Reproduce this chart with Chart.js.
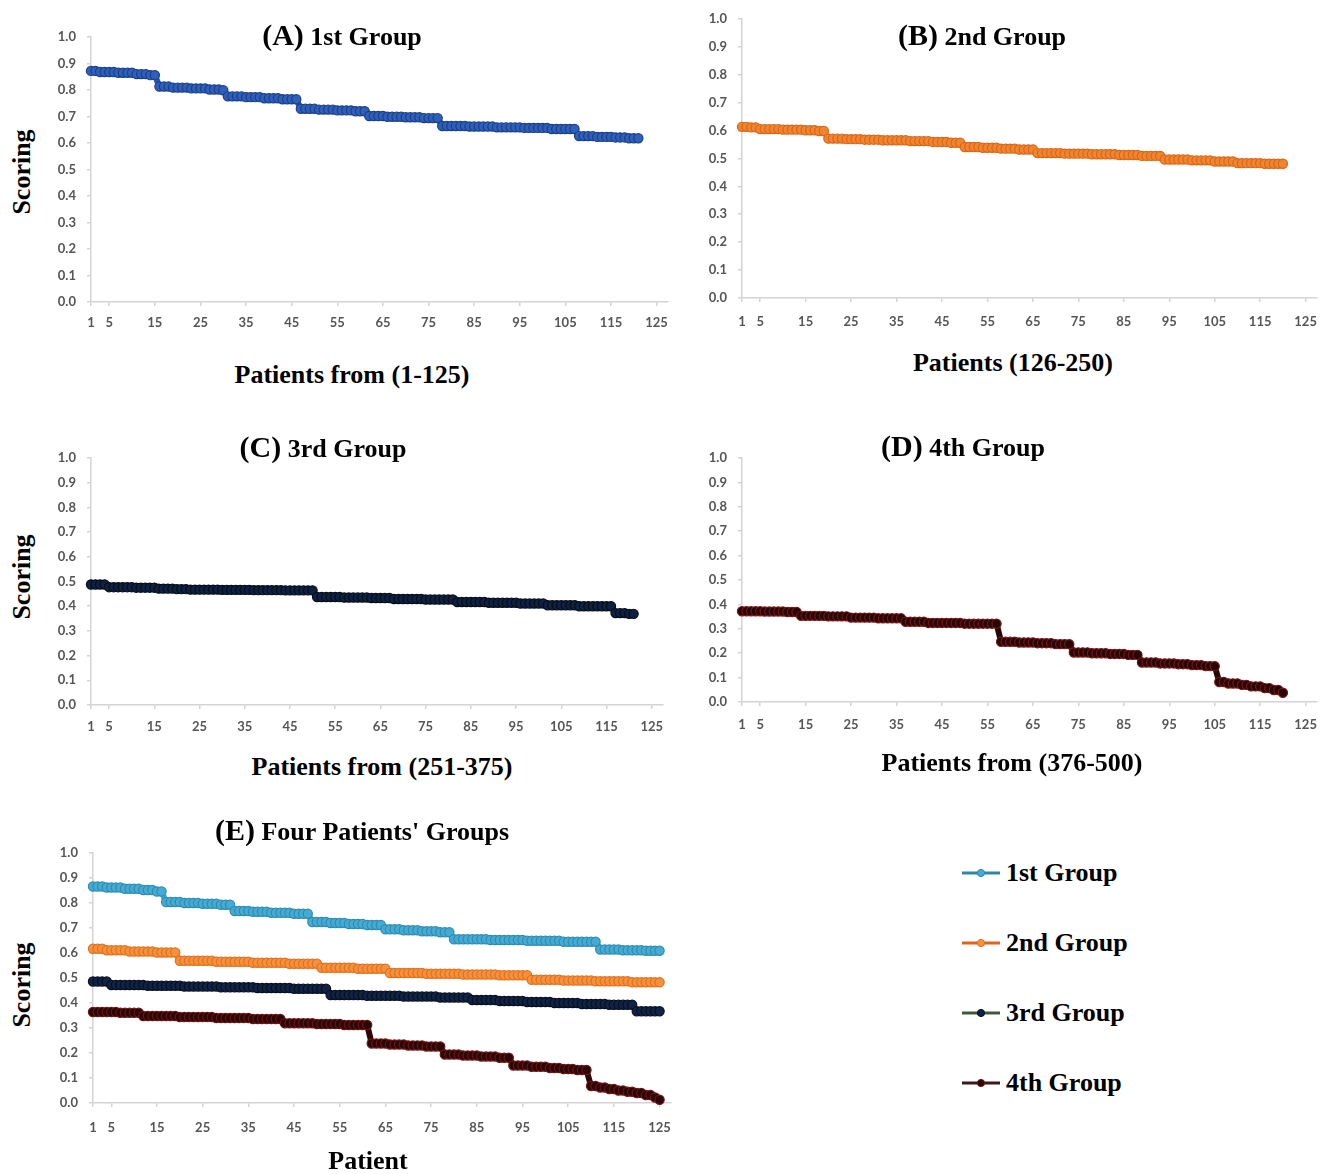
<!DOCTYPE html>
<html>
<head>
<meta charset="utf-8">
<script src="https://cdn.jsdelivr.net/npm/chart.js@4.4.0/dist/chart.umd.min.js"></script>
<style>
  html, body { margin: 0; padding: 0; background: #fff; }
  body { width: 1333px; height: 1174px; position: relative; overflow: hidden; }
  canvas { position: absolute; }
  .t {
    position: absolute; white-space: nowrap; color: #000; line-height: 1;
    font-family: "Liberation Serif", "Times New Roman", serif; font-weight: bold; font-size: 26px;
    transform: translate(-50%, -50%);
  }
  .t .p { font-size: 30px; }
  .v { transform: translate(-50%, -50%) rotate(-90deg); }
  .leg { position: absolute; display: flex; align-items: center; transform: translateY(-50%); }
  .leg svg { margin-right: 4px; }
</style>
</head>
<body>
<canvas id="chartA"></canvas>
<canvas id="chartB"></canvas>
<canvas id="chartC"></canvas>
<canvas id="chartD"></canvas>
<canvas id="chartE"></canvas>

<div class="t" style="left:342px;top:35px"><span class="p">(A)</span> 1st Group</div>
<div class="t" style="left:982px;top:35px"><span class="p">(B)</span> 2nd Group</div>
<div class="t" style="left:323px;top:447px"><span class="p">(C)</span> 3rd Group</div>
<div class="t" style="left:963px;top:446px"><span class="p">(D)</span> 4th Group</div>
<div class="t" style="left:362px;top:830px"><span class="p">(E)</span> Four Patients' Groups</div>

<div class="t" style="left:352px;top:375px">Patients from (1-125)</div>
<div class="t" style="left:1013px;top:363px">Patients (126-250)</div>
<div class="t" style="left:382px;top:767px">Patients from (251-375)</div>
<div class="t" style="left:1012px;top:763px">Patients from (376-500)</div>
<div class="t" style="left:368px;top:1161px">Patient</div>

<div class="t v" style="left:22px;top:172px">Scoring</div>
<div class="t v" style="left:22px;top:577px">Scoring</div>
<div class="t v" style="left:22px;top:985px">Scoring</div>

<div id="legend"></div>

<script>
// Ranked patient scores, stored as [score, number of patients with that score], in rank order.
const group1Runs = [
  [0.872,2],[0.868,4],[0.865,4],[0.860,3],[0.856,2],
  [0.813,3],[0.809,4],[0.806,4],[0.802,3],[0.799,1],
  [0.776,4],[0.773,4],[0.769,4],[0.765,4],
  [0.729,4],[0.726,4],[0.723,4],[0.720,3],
  [0.702,4],[0.699,4],[0.697,4],[0.694,4],
  [0.664,6],[0.662,6],[0.659,6],[0.657,6],[0.653,6],
  [0.626,4],[0.623,4],[0.621,3],[0.618,3]
];
const group2Runs = [
  [0.613,2],[0.611,2],
  [0.605,5],[0.603,5],[0.601,3],[0.598,2],
  [0.571,4],[0.569,4],[0.567,4],
  [0.565,6],[0.562,5],
  [0.559,4],[0.556,3],
  [0.541,4],[0.538,4],
  [0.535,4],[0.532,4],
  [0.519,6],[0.517,6],[0.515,6],
  [0.512,5],[0.509,5],
  [0.496,6],[0.493,5],
  [0.489,5],
  [0.483,6],[0.481,5]
];
const group3Runs = [
  [0.488,4],
  [0.477,6],[0.475,5],
  [0.471,4],[0.469,3],
  [0.467,7],[0.466,7],[0.465,7],[0.464,7],
  [0.437,6],[0.435,6],[0.433,5],
  [0.429,7],[0.427,7],
  [0.417,7],[0.414,7],
  [0.411,6],
  [0.404,7],
  [0.400,8],
  [0.372,3],[0.369,2]
];
const group4Runs = [
  [0.372,5],[0.371,5],[0.369,3],
  [0.353,6],[0.351,5],
  [0.346,6],[0.343,6],
  [0.329,5],
  [0.324,8],[0.321,8],
  [0.247,4],[0.244,4],[0.241,4],[0.237,4],
  [0.203,4],[0.200,4],[0.197,4],[0.193,3],
  [0.162,4],[0.158,4],[0.155,3],[0.151,3],[0.147,3],
  [0.082,2],[0.076,3],[0.070,2],[0.064,3],[0.057,2],[0.049,2],[0.038,1]
];

// Combined panel: all four groups, 125 patients each.
const combined1Runs = [
  [0.866,3],[0.862,4],[0.857,4],[0.852,3],[0.846,2],
  [0.804,4],[0.800,4],[0.797,4],[0.793,3],
  [0.768,4],[0.765,4],[0.761,5],[0.757,4],
  [0.724,4],[0.720,4],[0.716,4],[0.712,4],
  [0.695,4],[0.691,4],[0.687,4],[0.683,3],
  [0.655,8],[0.652,8],[0.649,8],[0.645,8],
  [0.614,5],[0.611,5],[0.609,4]
];
const combined2Runs = [
  [0.617,3],[0.611,5],[0.606,6],[0.602,5],
  [0.569,8],[0.565,8],[0.561,8],[0.557,7],
  [0.541,8],[0.537,7],
  [0.520,8],[0.517,8],[0.514,8],[0.511,7],
  [0.493,7],[0.490,7],[0.487,8],[0.483,7]
];
const combined3Runs = [
  [0.486,4],
  [0.472,8],[0.469,8],[0.466,8],[0.463,8],[0.460,8],[0.457,8],
  [0.432,8],[0.429,8],[0.426,8],[0.422,7],
  [0.412,6],[0.408,6],[0.404,6],[0.400,6],[0.396,6],[0.393,6],
  [0.367,6]
];
const combined4Runs = [
  [0.364,6],[0.361,5],
  [0.348,8],[0.344,8],[0.340,8],[0.336,7],
  [0.319,7],[0.316,6],[0.312,6],
  [0.238,4],[0.234,4],[0.230,4],[0.226,4],
  [0.194,4],[0.190,4],[0.186,4],[0.181,3],
  [0.150,4],[0.145,4],[0.140,3],[0.136,3],[0.132,3],
  [0.068,2],[0.062,2],[0.056,2],[0.050,2],[0.045,2],[0.040,2],[0.032,2],[0.022,1],[0.013,1]
];

const groupNames = ['1st Group', '2nd Group', '3rd Group', '4th Group'];
const xTickValues = [1, 5, 15, 25, 35, 45, 55, 65, 75, 85, 95, 105, 115, 125];
const yTickValues = [0, 0.1, 0.2, 0.3, 0.4, 0.5, 0.6, 0.7, 0.8, 0.9, 1.0];

const AXIS = '#d4d4d4';
const TICK = '#555555';
const X_MAX = 127.5;

// Turn score runs into {x: rank, y: score} points.
function toPoints(runs) {
  const pts = [];
  runs.forEach(([score, count]) => {
    for (let k = 0; k < count; k++) pts.push({ x: pts.length + 1, y: score });
  });
  return pts;
}

function series(label, runs, c) {
  return {
    label,
    data: toPoints(runs),
    borderColor: c.line,
    borderWidth: 6,
    borderJoinStyle: 'round',
    borderCapStyle: 'round',
    pointRadius: 4.6,
    pointHoverRadius: 4.6,
    pointBackgroundColor: c.fill,
    pointBorderColor: c.edge,
    pointBorderWidth: 1.2,
    tension: 0,
    clip: false,
    legendLine: c.legendLine || c.line
  };
}

Chart.defaults.animation = false;
Chart.defaults.font.family = 'Lato, "Open Sans", sans-serif';

function panel(id, box, plot, xPad, datasets) {
  const cv = document.getElementById(id);
  cv.width = box.w; cv.height = box.h;
  cv.style.left = box.l + 'px'; cv.style.top = box.t + 'px';
  const axisGrid = { display: true, drawOnChartArea: false, drawTicks: true, tickLength: 4, color: AXIS, lineWidth: 1.5 };
  const axisBorder = { display: true, color: AXIS, width: 1.5 };
  const tickFont = { size: 13, weight: 'bold' };
  return new Chart(cv, {
    type: 'line',
    data: { datasets },
    options: {
      responsive: false,
      devicePixelRatio: 1,
      animation: false,
      events: [],
      layout: { padding: { top: plot.t - box.t, right: box.l + box.w - plot.r, bottom: 0, left: 0 } },
      plugins: { legend: { display: false }, tooltip: { enabled: false }, title: { display: false } },
      scales: {
        x: {
          type: 'linear', min: 1, max: X_MAX,
          afterBuildTicks: a => { a.ticks = xTickValues.map(v => ({ value: v })); },
          afterFit: s => { s.height = box.t + box.h - plot.b; },
          grid: axisGrid, border: axisBorder,
          ticks: { autoSkip: false, maxRotation: 0, minRotation: 0, padding: xPad, color: TICK, font: tickFont,
                   callback: v => String(v) }
        },
        y: {
          type: 'linear', min: 0, max: 1,
          afterBuildTicks: a => { a.ticks = yTickValues.map(v => ({ value: v })); },
          afterFit: s => { s.width = plot.l - box.l; },
          grid: axisGrid, border: axisBorder,
          ticks: { padding: 11, color: TICK, font: tickFont, callback: v => Number(v).toFixed(1) }
        }
      }
    }
  });
}

const blueA  = { line: '#2a57ae', fill: '#2f5fba', edge: '#1b3f88' };
const orangeB = { line: '#ee7d28', fill: '#f0852e', edge: '#d9661a' };
const navyC  = { line: '#0d1d3a', fill: '#0f2140', edge: '#050c1a' };
const maroonD = { line: '#280606', fill: '#260505', edge: '#7a1515' };

const eColors = [
  { line: '#42a7cf', fill: '#45abd2', edge: '#2c8cb4', legendLine: '#2f86ad' },
  { line: '#f38b35', fill: '#f6903a', edge: '#e0711f', legendLine: '#e0621f' },
  { line: '#0e1f3f', fill: '#102343', edge: '#060f22', legendLine: '#3d5a3a' },
  { line: '#2c0707', fill: '#2a0606', edge: '#6e1414', legendLine: '#3a1a1a' }
];

panel('chartA', { l: 40, t: 15, w: 660, h: 330 }, { l: 91, t: 37, r: 668, b: 302 }, 9,
      [series(groupNames[0], group1Runs, blueA)]);
panel('chartB', { l: 690, t: 0, w: 643, h: 330 }, { l: 742, t: 18, r: 1317, b: 298 }, 12,
      [series(groupNames[1], group2Runs, orangeB)]);
panel('chartC', { l: 40, t: 430, w: 660, h: 320 }, { l: 91, t: 458, r: 663, b: 705 }, 10,
      [series(groupNames[2], group3Runs, navyC)]);
panel('chartD', { l: 690, t: 430, w: 643, h: 320 }, { l: 742, t: 458, r: 1317, b: 702 }, 11,
      [series(groupNames[3], group4Runs, maroonD)]);

const combinedRuns = [combined1Runs, combined2Runs, combined3Runs, combined4Runs];
const eDatasets = combinedRuns.map((runs, i) => series(groupNames[i], runs, eColors[i]));
const chartE = panel('chartE', { l: 40, t: 830, w: 660, h: 330 }, { l: 93, t: 853, r: 671, b: 1103 }, 13, eDatasets);

// Legend for the combined panel, built from its datasets.
const legend = document.getElementById('legend');
chartE.data.datasets.forEach((ds, i) => {
  const item = document.createElement('div');
  item.className = 'leg';
  item.style.left = '962px';
  item.style.top = (873 + i * 70) + 'px';
  item.innerHTML =
    '<svg width="40" height="12" viewBox="0 0 40 12">' +
    '<line x1="0" y1="6" x2="38" y2="6" stroke="' + ds.legendLine + '" stroke-width="3"/>' +
    '<circle cx="19" cy="6" r="3.6" fill="' + ds.pointBackgroundColor + '" stroke="' + ds.pointBorderColor + '" stroke-width="1"/>' +
    '</svg>' +
    '<span class="t" style="position:static;transform:none">' + ds.label + '</span>';
  legend.appendChild(item);
});
</script>
</body>
</html>
